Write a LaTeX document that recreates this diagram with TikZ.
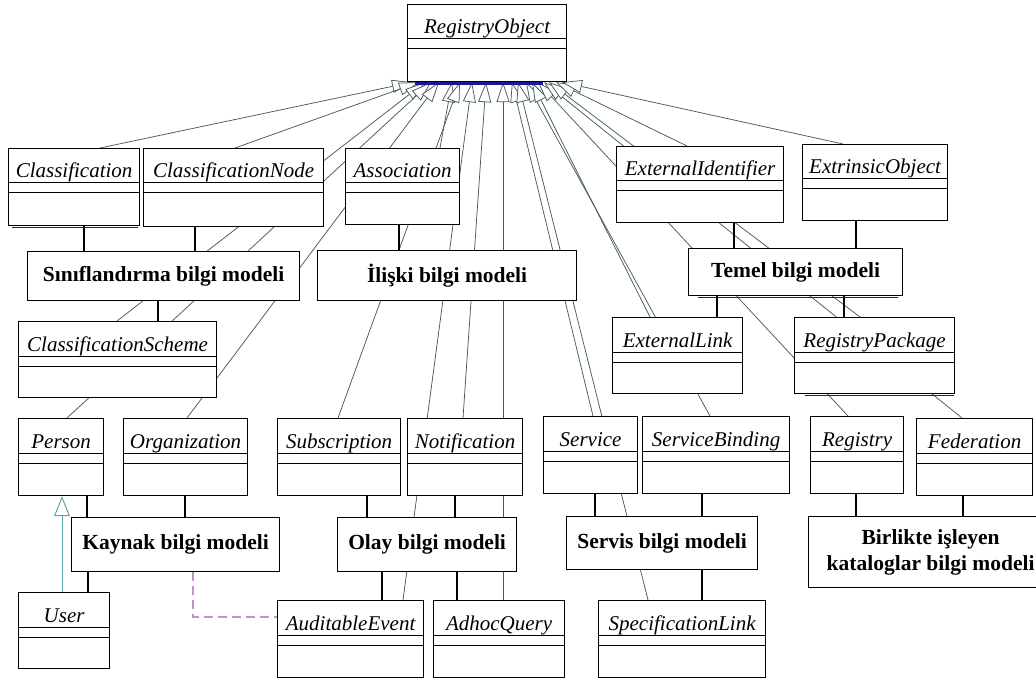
\documentclass[tikz,border=0pt]{standalone}
\usepackage{fontspec}
\setmainfont{Liberation Serif}
\usetikzlibrary{arrows.meta,calc}
\pgfdeclarelayer{bg}
\pgfsetlayers{bg,main}
\definecolor{genc}{RGB}{70,92,92}
\definecolor{gentl}{RGB}{95,165,165}
\definecolor{dashc}{RGB}{195,145,200}
\definecolor{selb}{RGB}{25,25,140}
\tikzset{
  clsbox/.style={draw=black, line width=1.2pt, fill=white, inner sep=0pt, anchor=north west},
  clsname/.style={font=\fontsize{21}{24}\selectfont\itshape, inner sep=0pt, anchor=base},
  pkgbox/.style={draw=black, line width=1.2pt, fill=white, inner sep=0pt, anchor=north west},
  pkgname/.style={font=\fontsize{21.5}{26}\selectfont\bfseries, inner sep=0pt, align=center},
  comp/.style={line width=2.4pt, black},
  gen/.style={draw=genc, line width=0.75pt, -{Triangle[length=20pt,width=13pt,fill=white]}},
  userinh/.style={draw=gentl, line width=1pt, -{Triangle[length=20pt,width=16pt,fill=white]}},
  dashlink/.style={draw=dashc, line width=1.2pt, dash pattern=on 9pt off 5pt},
  selline/.style={draw=selb, line width=1.4pt},
}
\newcommand{\umlc}[6]{%
  \node[clsbox, minimum width={(#4-#2)*1pt}, minimum height={(#5-#3)*1pt}] (#1) at (#2,#3) {};
  \node[clsname] (#1-t) at ([yshift=-30pt]#1.north) {#6};
  \draw[line width=1pt] ([yshift=-35pt]#1.north west) -- ([yshift=-35pt]#1.north east);
  \draw[line width=1pt] ([yshift=-45pt]#1.north west) -- ([yshift=-45pt]#1.north east);
}
\newcommand{\pkgb}[6]{%
  \node[pkgbox, minimum width={(#4-#2)*1pt}, minimum height={(#5-#3)*1pt}] (#1) at (#2,#3) {};
  \node[pkgname] (#1-t) at (#1.center) {#6};
}
\newcommand{\vlink}[3]{%
  \coordinate (vx) at (#3,0);
  \draw[comp] (#1.south -| vx) -- (#2.north -| vx);
}
\newcommand{\genl}[3]{%
  \coordinate (gs) at (#2,0);
  \coordinate (gt) at (#3,0);
  \draw[gen] (#1.north -| gs) -- (RO.south -| gt);
}
\begin{document}
\begin{tikzpicture}[x=1pt,y=-1pt]
\useasboundingbox (0,0) rectangle (1036,679);
\begin{pgfonlayer}{bg}
\fill[white] (0,0) rectangle (1036,679);
\end{pgfonlayer}

% classes
\umlc{RO}{407}{4}{566}{81}{RegistryObject}
\umlc{Cl}{8}{148}{139}{225}{Classification}
\umlc{CN}{143}{148}{323}{226}{ClassificationNode}
\umlc{As}{345}{148}{459}{224}{Association}
\umlc{EI}{616}{146}{783}{222}{ExternalIdentifier}
\umlc{EO}{802}{144}{947}{220}{ExtrinsicObject}
\umlc{CS}{18}{321}{216}{397}{ClassificationScheme}
\umlc{EL}{612}{317}{742}{393}{ExternalLink}
\umlc{RP}{794}{317}{954}{393}{RegistryPackage}
\umlc{Pe}{18}{418}{103}{495}{Person}
\umlc{Or}{123}{418}{247}{495}{Organization}
\umlc{Su}{277}{418}{400}{495}{Subscription}
\umlc{No}{407}{418}{522}{495}{Notification}
\umlc{Se}{543}{416}{637}{493}{Service}
\umlc{SB}{642}{416}{789}{493}{ServiceBinding}
\umlc{Re}{810}{416}{903}{493}{Registry}
\umlc{Fe}{916}{418}{1032}{495}{Federation}
\umlc{Us}{18}{592}{109}{668}{User}
\umlc{AE}{277}{600}{423}{677}{AuditableEvent}
\umlc{AQ}{433}{600}{564}{677}{AdhocQuery}
\umlc{SL}{598}{600}{765}{677}{SpecificationLink}

% packages
\pkgb{P1}{27}{251}{299}{300}{Sınıflandırma bilgi modeli}
\pkgb{P2}{317}{250}{576}{300}{İlişki bilgi modeli}
\pkgb{P3}{688}{248}{902}{295}{Temel bilgi modeli}
\pkgb{P4}{71}{517}{279}{571}{Kaynak bilgi modeli}
\pkgb{P5}{337}{517}{516}{571}{Olay bilgi modeli}
\pkgb{P6}{566}{516}{757}{569}{Servis bilgi modeli}
\pkgb{P7}{808}{516}{1052}{587}{Birlikte işleyen\\kataloglar bilgi modeli}

% composition links
\vlink{Cl}{P1}{84}
\vlink{CN}{P1}{195}
\vlink{P1}{CS}{158}
\vlink{As}{P2}{399}
\vlink{EI}{P3}{734}
\vlink{EO}{P3}{856}
\vlink{P3}{EL}{717}
\vlink{P3}{RP}{844}
\vlink{Pe}{P4}{87}
\vlink{Or}{P4}{185}
\vlink{P4}{Us}{88}
\vlink{Su}{P5}{367}
\vlink{No}{P5}{455}
\vlink{P5}{AE}{382}
\vlink{P5}{AQ}{457}
\vlink{Se}{P6}{595}
\vlink{SB}{P6}{702}
\vlink{P6}{SL}{702}
\vlink{Re}{P7}{856}
\vlink{Fe}{P7}{963}

% User -> Person generalization
\coordinate (ux) at (62,0);
\draw[userinh] (Us.north -| ux) -- (Pe.south -| ux);

% dashed dependency
\coordinate (dq) at (193,617);
\draw[dashlink] (P4.south -| dq) |- (AE.west |- dq);

% generalizations to RegistryObject (behind boxes)
\begin{pgfonlayer}{bg}
\genl{Cl}{100}{412}
\genl{CN}{235}{419}
\genl{CS}{117}{425}
\genl{Pe}{67}{431}
\genl{Or}{187}{439}
\genl{As}{440}{452}
\genl{Su}{338}{460}
\genl{AE}{403}{472}
\genl{No}{463}{486}
\genl{AQ}{503}{503}
\genl{Se}{593}{512}
\genl{SL}{648}{518}
\genl{SB}{710}{526}
\genl{EL}{650}{532}
\genl{Re}{848}{538}
\genl{Fe}{962}{544}
\genl{RP}{860}{549}
\genl{EI}{687}{556}
\genl{EO}{843}{562}
\end{pgfonlayer}

% selection marks
\draw[selline, line width=3pt] ([xshift=8pt,yshift=-1.5pt]RO.south west) -- ([xshift=-24pt,yshift=-1.5pt]RO.south east);
\draw[selline] ([xshift=4pt,yshift=-1.2pt]Cl.south west) -- ([xshift=-2pt,yshift=-1.2pt]Cl.south east);
\draw[selline] ([xshift=10pt,yshift=-1.2pt]P3.south west) -- ([xshift=-5pt,yshift=-1.2pt]P3.south east);
\draw[selline] ([xshift=11pt,yshift=-1.2pt]RP.south west) -- ([xshift=-1pt,yshift=-1.2pt]RP.south east);
\end{tikzpicture}
\end{document}
